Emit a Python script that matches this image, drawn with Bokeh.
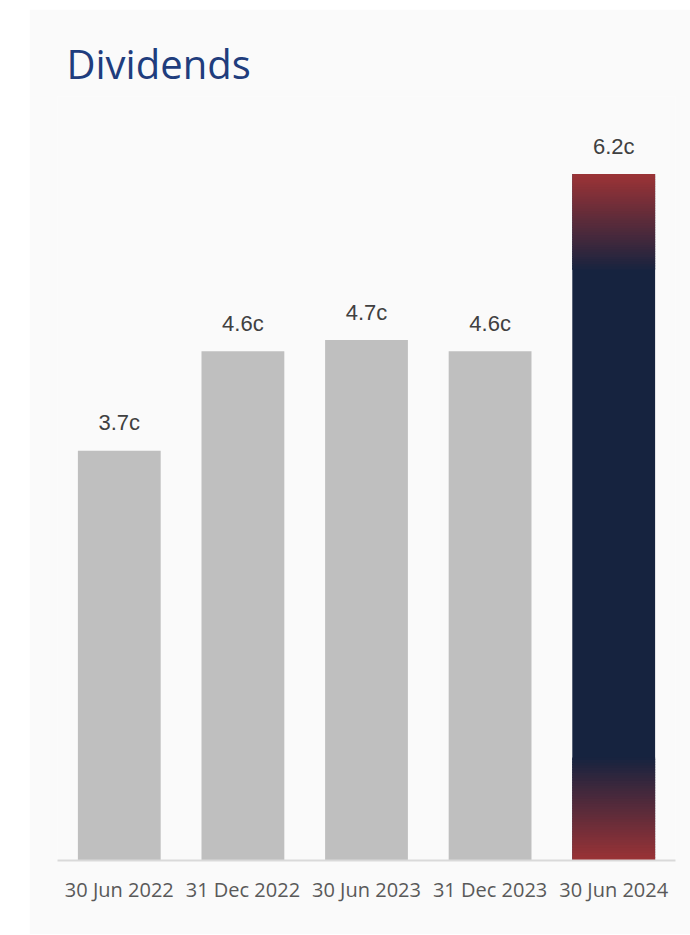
from bokeh.plotting import figure
from bokeh.models import Range1d, FactorRange, ColumnDataSource, Spacer
from bokeh.layouts import row, column
from bokeh.core.properties import value
from bokeh.embed import file_html
from bokeh.resources import INLINE

categories = ["30 Jun 2022", "31 Dec 2022", "30 Jun 2023", "31 Dec 2023", "30 Jun 2024"]
values = [3.7, 4.6, 4.7, 4.6, 6.2]
labels = ["3.7c", "4.6c", "4.7c", "4.6c", "6.2c"]

BG = "#fafafa"
GREY = "#bfbfbf"
RED = (155, 51, 54)
NAVY = (22, 35, 63)

p = figure(x_range=FactorRange(*categories, range_padding=0),
           y_range=Range1d(0, 6.9),
           width=661, height=925, output_backend="svg", toolbar_location=None,
           min_border_left=28, min_border_right=15, min_border_bottom=74,
           min_border_top=87,
           background_fill_color=BG, border_fill_color=BG, outline_line_color=None)

p.title.text = "Dividends"
p.title.text_font = "Open Sans"
p.title.text_font_style = "normal"
p.title.text_font_size = "40px"
p.title.text_color = "#1f3d7d"
p.title.offset = 9
p.title.standoff = 12

bw = 0.67
grey_cats = categories[:-1]
grey_vals = values[:-1]
p.vbar(x=grey_cats, top=grey_vals, width=bw, fill_color=GREY, line_color=None)

# highlighted last bar with gradient
last_cat = categories[-1]
last_val = values[-1]
p.vbar(x=[last_cat], top=[last_val], width=bw, fill_color="#16233f", line_color=None)

def mix(c1, c2, t):
    return "#%02x%02x%02x" % tuple(int(round(a + (b - a) * t)) for a, b in zip(c1, c2))

N = 40
top_zone = 0.14
bot_zone = 0.15
xs, bots, tops, cols = [], [], [], []
for i in range(N):
    f0 = i / N
    f1 = (i + 1) / N
    b = last_val * bot_zone * f0
    t = last_val * bot_zone * min(1.0, f1 + 0.5 / N)
    xs.append(last_cat); bots.append(b); tops.append(t)
    cols.append(mix(RED, NAVY, (i + 0.5) / N))
    b2 = last_val * (1 - top_zone) + last_val * top_zone * max(0.0, f0 - 0.5 / N)
    t2 = last_val * (1 - top_zone) + last_val * top_zone * f1
    xs.append(last_cat); bots.append(b2); tops.append(t2)
    cols.append(mix(NAVY, RED, (i + 0.5) / N))
p.vbar(x=xs, bottom=bots, top=tops, width=bw, fill_color=cols, line_color=None)

src = ColumnDataSource(dict(x=categories, y=values, t=labels))
p.text(x="x", y="y", text="t", source=src, text_align="center",
       text_baseline="alphabetic", y_offset=-28, text_font_size="22px",
       text_color="#404040", text_font=value("Liberation Sans"))

p.yaxis.visible = False
p.xgrid.grid_line_color = None
p.ygrid.grid_line_color = None
p.xaxis.axis_line_color = "#d9d9d9"
p.xaxis.axis_line_width = 2
p.xaxis.major_tick_line_color = None
p.xaxis.minor_tick_line_color = None
p.xaxis.major_label_text_font = "Open Sans"
p.xaxis.major_label_text_font_size = "20px"
p.xaxis.major_label_text_color = "#595959"
p.xaxis.major_label_standoff = 9

layout = column(Spacer(width=690, height=9), row(Spacer(width=29, height=925), p))
open("out.html", "w").write(file_html(layout, INLINE))
